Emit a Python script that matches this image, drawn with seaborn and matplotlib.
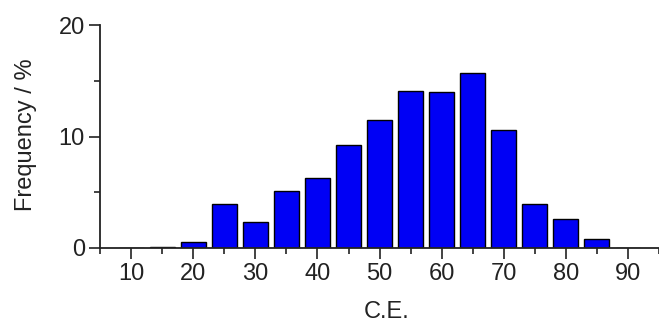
import matplotlib
matplotlib.use("Agg")
import matplotlib.pyplot as plt
from matplotlib.ticker import MultipleLocator
import pandas as pd
import seaborn as sns

# --- DATA ---
CE_BINS = [10, 15, 20, 25, 30, 35, 40, 45, 50, 55, 60, 65, 70, 75, 80, 85, 90]
FREQ = [0.0, 0.1, 0.5, 3.9, 2.3, 5.1, 6.3, 9.2, 11.5, 14.1, 14.0, 15.7,
        10.6, 3.9, 2.6, 0.8, 0.0]

df = pd.DataFrame({"ce": CE_BINS, "freq": FREQ})

sns.set_theme(style="ticks")
plt.rcParams["font.family"] = ["Liberation Sans", "DejaVu Sans"]

fig = plt.figure(figsize=(6.59, 3.22), dpi=100)
ax = fig.add_axes([0.152, 0.230, 0.848, 0.692])

sns.barplot(data=df, x="ce", y="freq", native_scale=True, width=0.8,
            color="#0000f5", saturation=1, edgecolor="black", linewidth=1.0, ax=ax)

ax.set_xlim(5, 95)
ax.set_ylim(0, 20)
ax.xaxis.set_major_locator(MultipleLocator(10))
ax.xaxis.set_minor_locator(MultipleLocator(5))
ax.yaxis.set_major_locator(MultipleLocator(10))
ax.yaxis.set_minor_locator(MultipleLocator(5))
ax.tick_params(which="major", length=8, width=1.2, labelsize=17, pad=3,
               color="#222222", labelcolor="#222222")
ax.tick_params(which="minor", length=4, width=1.2, color="#222222")

sns.despine(ax=ax)
for sp in ("left", "bottom"):
    ax.spines[sp].set_linewidth(1.3)
    ax.spines[sp].set_color("#222222")

ax.set_xlabel("C.E.", fontsize=17, color="#222222")
ax.set_ylabel("Frequency / %", fontsize=17, color="#222222")
ax.xaxis.set_label_coords(0.513, -0.24)
ax.yaxis.set_label_coords(-0.113, 0.51)

fig.savefig("out.png", dpi=100)
